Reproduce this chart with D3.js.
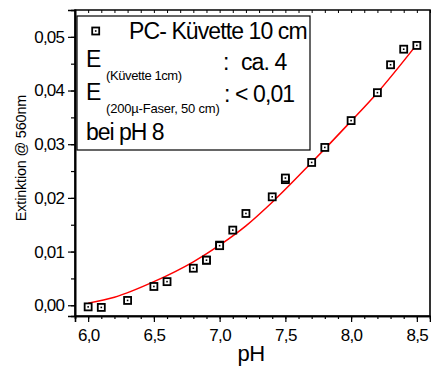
<!DOCTYPE html>
<html>
<head>
<meta charset="utf-8">
<script src="https://cdn.jsdelivr.net/npm/d3@7"></script>
<style>
  body { margin: 0; background: #fff; }
  text { font-family: Arial, "Liberation Sans", sans-serif; fill: #000; }
</style>
</head>
<body>
<svg id="chart" width="431" height="367"></svg>
<script>
// measured points
const phValues = [6.0, 6.1, 6.3, 6.5, 6.6, 6.8, 6.9, 6.9, 7.0, 7.0, 7.1, 7.2, 7.4, 7.5, 7.5, 7.7, 7.8, 8.0, 8.2, 8.3, 8.4, 8.5];
const extValues = [-0.0003, -0.0004, 0.0009, 0.0035, 0.0044, 0.0069, 0.0084, 0.0084, 0.0112, 0.0111, 0.0140, 0.0171, 0.0202, 0.0234, 0.0237, 0.0266, 0.0294, 0.0344, 0.0396, 0.0448, 0.0477, 0.0484];

// red fit line
const fitPh = [6.0, 6.2, 6.5, 6.8, 7.0, 7.2, 7.4, 7.7, 8.0, 8.2, 8.5];
const fitExt = [0.0004, 0.0015, 0.0044, 0.0081, 0.0112, 0.0148, 0.0192, 0.0266, 0.0343, 0.0396, 0.0486];

const xTicks = [6.0, 6.5, 7.0, 7.5, 8.0, 8.5];
const yTicks = [0.00, 0.01, 0.02, 0.03, 0.04, 0.05];

const svg = d3.select("#chart");
const mLeft = 75, mRight = 430, mTop = 10, mBottom = 316;

const x = d3.scaleLinear().domain([5.9, 8.6]).range([mLeft, mRight]);
const y = d3.scaleLinear().domain([-0.002, 0.055]).range([mBottom, mTop]);

const fmt = d => d3.format(".2f")(d).replace(".", ",");
const fmtX = d => d3.format(".1f")(d).replace(".", ",");

// minor ticks
const xMinor = d3.range(59, 87).map(d => d / 10);
const yMinor = d3.range(0, 11).map(d => d * 0.005);

// bottom axis
const gx = svg.append("g").attr("transform", "translate(0," + mBottom + ")");
gx.call(d3.axisBottom(x).tickValues(xMinor).tickSize(3).tickFormat(""));
gx.append("g").call(d3.axisBottom(x).tickValues(xTicks).tickSize(6).tickFormat(fmtX))
  .selectAll("text").attr("dy", "0.93em").style("font-size", "17px").style("letter-spacing", "-0.7px");
gx.selectAll(".domain").attr("stroke-width", 1.6);
gx.selectAll("line").attr("stroke-width", 1.2);

// top axis ticks inward
const gt = svg.append("g").attr("transform", "translate(0," + mTop + ")");
gt.call(d3.axisBottom(x).tickValues(xMinor).tickSize(3).tickFormat(""));
gt.selectAll(".domain").remove();
gt.selectAll("line").attr("stroke-width", 1);

// left axis
const gy = svg.append("g").attr("transform", "translate(" + mLeft + ",0)");
gy.call(d3.axisLeft(y).tickValues(yMinor).tickSize(4).tickFormat(""));
gy.append("g").call(d3.axisLeft(y).tickValues(yTicks).tickSize(7).tickFormat(fmt))
  .selectAll("text").attr("dx", "-0.05em").style("font-size", "17px").style("letter-spacing", "-0.8px");
gy.selectAll(".domain").attr("stroke-width", 1.6);
gy.selectAll("line").attr("stroke-width", 1.2);

// frame
svg.append("path")
  .attr("d", d3.line()([[mLeft, mBottom], [mLeft, mTop], [mRight, mTop], [mRight, mBottom], [mLeft, mBottom]]))
  .attr("fill", "none").attr("stroke", "#000").attr("stroke-width", 1.6);

// fit line
const fitData = fitPh.map((p, i) => [p, fitExt[i]]);
svg.append("path")
  .datum(fitData)
  .attr("fill", "none")
  .attr("stroke", "#ff0000")
  .attr("stroke-width", 1.5)
  .attr("d", d3.line().x(d => x(d[0])).y(d => y(d[1])).curve(d3.curveMonotoneX));

// markers
const pts = phValues.map((p, i) => [p, extValues[i]]);
const mk = svg.append("g").selectAll("g").data(pts).enter().append("g")
  .attr("transform", d => "translate(" + x(d[0]) + "," + y(d[1]) + ")");
mk.append("rect").attr("x", -3.5).attr("y", -3.5).attr("width", 7).attr("height", 7)
  .attr("fill", "#fff").attr("stroke", "#000").attr("stroke-width", 1.8);
mk.append("rect").attr("x", -0.8).attr("y", -0.8).attr("width", 1.6).attr("height", 1.6).attr("fill", "#000");

// legend box
const lg = svg.append("g");
lg.append("rect").attr("x", 77).attr("y", 16).attr("width", 233).attr("height", 134)
  .attr("fill", "#fff").attr("stroke", "#000").attr("stroke-width", 1.2);
const lm = lg.append("g").attr("transform", "translate(95.7,31)");
lm.append("rect").attr("x", -3.5).attr("y", -3.5).attr("width", 7).attr("height", 7)
  .attr("fill", "#fff").attr("stroke", "#000").attr("stroke-width", 1.8);
lm.append("rect").attr("x", -0.8).attr("y", -0.8).attr("width", 1.6).attr("height", 1.6).attr("fill", "#000");

const big = "23px";
lg.append("text").attr("x", 129).attr("y", 38.5).style("font-size", big).style("letter-spacing", "-0.9px").text("PC- Küvette 10 cm");
lg.append("text").attr("x", 86).attr("y", 67).style("font-size", big).text("E");
lg.append("text").attr("x", 106).attr("y", 80).style("font-size", "13px").style("letter-spacing", "-0.4px").text("(Küvette 1cm)");
lg.append("text").attr("x", 223).attr("y", 70).style("font-size", big).text(":");
lg.append("text").attr("x", 241).attr("y", 70).style("font-size", big).style("letter-spacing", "-0.9px").text("ca. 4");
lg.append("text").attr("x", 86).attr("y", 100).style("font-size", big).text("E");
lg.append("text").attr("x", 106).attr("y", 113).style("font-size", "13px").style("letter-spacing", "-0.2px").text("(200µ-Faser, 50 cm)");
lg.append("text").attr("x", 224).attr("y", 101.5).style("font-size", big).style("letter-spacing", "-0.9px").text(": < 0,01");
lg.append("text").attr("x", 86).attr("y", 140).style("font-size", big).style("letter-spacing", "-1px").text("bei pH 8");

// axis titles
svg.append("text").attr("x", 251).attr("y", 361).attr("text-anchor", "middle")
  .style("font-size", "22px").style("letter-spacing", "-0.5px").text("pH");
svg.append("text").attr("transform", "translate(26,158) rotate(-90)").attr("text-anchor", "middle")
  .style("font-size", "14.5px").style("letter-spacing", "-0.2px").text("Extinktion @ 560nm");
</script>
</body>
</html>
